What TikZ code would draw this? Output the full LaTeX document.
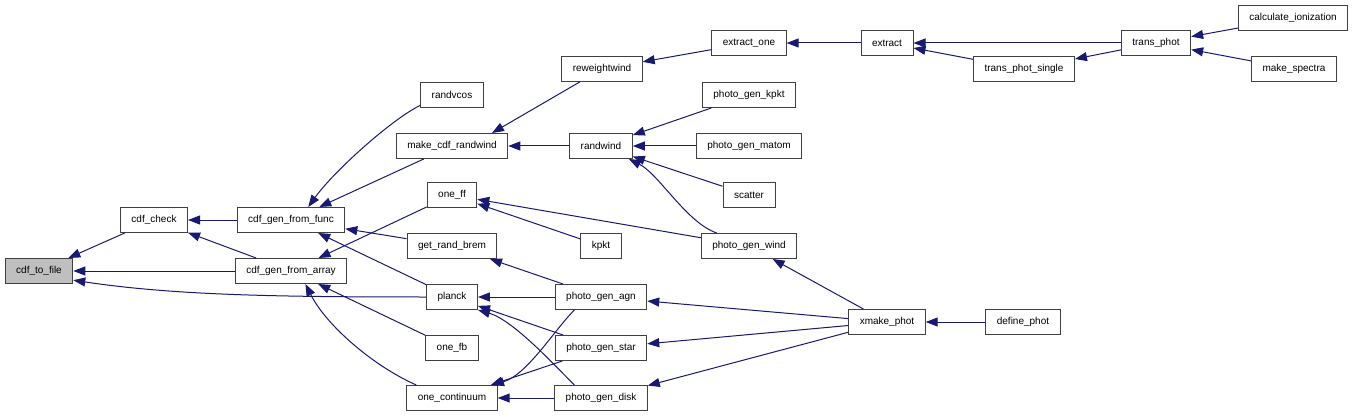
\documentclass[tikz,border=0pt]{standalone}
\usepackage{fontspec}
\setmainfont{Liberation Sans}
\usetikzlibrary{arrows.meta}
\definecolor{edgeblue}{HTML}{191970}
\definecolor{boxline}{HTML}{404040}
\definecolor{rootgray}{HTML}{BFBFBF}

\begin{document}
\begin{tikzpicture}[x=1pt,y=1pt,
  font=\fontsize{10}{12}\selectfont,
  fnbox/.style={draw=boxline,line width=1pt,fill=white,minimum height=25pt,
                inner xsep=11pt,inner ysep=0pt},
  rootbox/.style={fnbox,fill=rootgray},
  callflow/.style={-{Triangle[length=12pt,width=9pt]},draw=edgeblue,line width=1pt}
]
% pixel grid of the call graph, y runs downwards
\path[use as bounding box] (0,0) rectangle (1355,-417);

\node[rootbox] (tofile) at (39,-271) {cdf\_to\_file};
\node[fnbox] (check) at (154,-220) {cdf\_check};
\node[fnbox] (genfunc) at (291,-220) {cdf\_gen\_from\_func};
\node[fnbox] (genarray) at (291,-271) {cdf\_gen\_from\_array};

\node[fnbox] (randvcos) at (452,-95) {randvcos};
\node[fnbox] (mkrandwind) at (452,-146) {make\_cdf\_randwind};
\node[fnbox] (oneff) at (452,-195) {one\_ff};
\node[fnbox] (randbrem) at (452,-246) {get\_rand\_brem};
\node[fnbox] (planck) at (452,-297) {planck};
\node[fnbox] (onefb) at (452,-348) {one\_fb};
\node[fnbox] (onecont) at (452,-398) {one\_continuum};

\node[fnbox] (reweight) at (602,-69) {reweightwind};
\node[fnbox] (randwind) at (601,-146) {randwind};
\node[fnbox] (kpkt) at (601,-246) {kpkt};
\node[fnbox] (pgagn) at (601,-297) {photo\_gen\_agn};
\node[fnbox] (pgstar) at (601,-348) {photo\_gen\_star};
\node[fnbox] (pgdisk) at (601,-398) {photo\_gen\_disk};

\node[fnbox] (extractone) at (749,-43) {extract\_one};
\node[fnbox] (pgkpkt) at (749,-95) {photo\_gen\_kpkt};
\node[fnbox] (pgmatom) at (749,-146) {photo\_gen\_matom};
\node[fnbox] (scatter) at (749,-195) {scatter};
\node[fnbox] (pgwind) at (749,-246) {photo\_gen\_wind};

\node[fnbox] (extract) at (887,-43) {extract};
\node[fnbox] (xmake) at (887,-322) {xmake\_phot};
\node[fnbox] (transsingle) at (1024,-69) {trans\_phot\_single};
\node[fnbox] (defphot) at (1023,-322) {define\_phot};
\node[fnbox] (transphot) at (1156,-43) {trans\_phot};
\node[fnbox] (calcion) at (1293,-18) {calculate\_ionization};
\node[fnbox] (makespec) at (1294,-69) {make\_spectra};

% straight calls, caller -> callee
\foreach \from/\to in {check/tofile,genarray/tofile,genfunc/check,genarray/check,
    mkrandwind/genfunc,randbrem/genfunc,planck/genfunc,
    oneff/genarray,onefb/genarray,randwind/mkrandwind,
    extractone/reweight,extract/extractone,transphot/extract,transsingle/extract,
    transphot/transsingle,calcion/transphot,makespec/transphot,
    pgkpkt/randwind,pgmatom/randwind,scatter/randwind,
    kpkt/oneff,pgwind/oneff,pgagn/randbrem,pgagn/planck,pgstar/planck,
    pgstar/onecont,pgdisk/onecont,
    xmake/pgwind,xmake/pgagn,xmake/pgstar,xmake/pgdisk,defphot/xmake}
  {\draw[callflow] (\from) -- (\to);}
\draw[callflow] (reweight) -- (mkrandwind.18);

% curved calls
\draw[callflow] (planck.west) .. controls +(-150,0) and +(100,-15) .. (tofile.-15);
\draw[callflow] (randvcos.198) .. controls +(-30,-15) and +(25,35) .. (genfunc.37);
\draw[callflow] (onecont.160) .. controls +(-45,20) and +(20,-40) .. (genarray.-42);
\draw[callflow] (pgwind.158) .. controls +(-30,10) and +(30,-15) .. (randwind.-25);
\draw[callflow] (pgdisk.154) .. controls +(-20,20) and +(35,-10) .. (planck.south east);
\draw[callflow] (pgagn.-154) .. controls +(-20,-20) and +(35,10) .. (onecont.18);
\end{tikzpicture}
\end{document}
